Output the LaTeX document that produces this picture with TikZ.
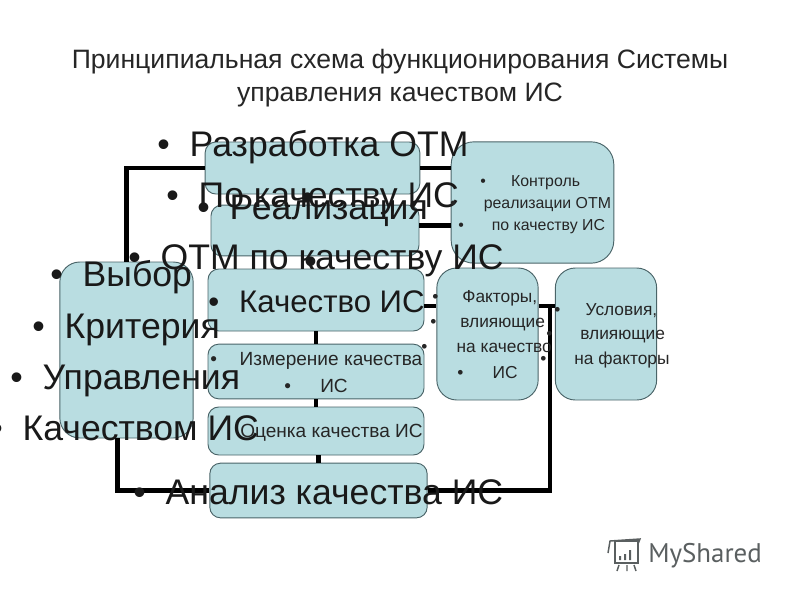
\documentclass[tikz,border=0pt]{standalone}
\usepackage{fontspec}
\setmainfont{Liberation Sans}
\newfontfamily\markfont{PT Sans}
\usetikzlibrary{calc}
\definecolor{boxfill}{HTML}{B9DDE1}
\definecolor{boxline}{HTML}{4A6468}
\definecolor{markgray}{HTML}{5A5F60}
\newcommand{\blt}[1][15pt]{\textbullet\hspace{#1}}
\tikzset{
  box/.style={rectangle, rounded corners=8pt, draw=boxline, fill=boxfill, line width=0.7pt, inner sep=0pt},
  wideround/.style={box, rounded corners=15pt},
  link/.style={line width=3.5pt, black},
  hugetext/.style={anchor=base west, inner sep=0pt, font=\fontsize{26.7}{27}\selectfont, text=black!90},
  bigtext/.style={anchor=base west, inner sep=0pt, font=\fontsize{23.4}{24}\selectfont, text=black!90},
  midtext/.style={anchor=base west, inner sep=0pt, font=\fontsize{14.3}{15}\selectfont, text=black!85},
  smalltext/.style={anchor=base west, inner sep=0pt, font=\fontsize{13}{13}\selectfont, text=black!85},
  tinytext/.style={anchor=base west, inner sep=0pt, font=\fontsize{11.9}{12}\selectfont, text=black!85},
  titletext/.style={inner sep=0pt, font=\fontsize{19.95}{20}\selectfont, text=black!85}
}

\begin{document}
\begin{tikzpicture}[x=0.75pt, y=-0.75pt]
        \useasboundingbox (0,0) rectangle (800,600);

        % Заголовок
        \node[titletext] (title1) at (400,62) {Принципиальная схема функционирования Системы};
        \node[titletext] (title2) at (400,95) {управления качеством ИС};

        % Блоки
        \node[box, minimum width=161pt, minimum height=39pt] (razrab) at (312.5,168) {};
        \node[box, minimum width=156pt, minimum height=38pt] (realiz) at (315,230.5) {};
        \node[box, minimum width=162pt, minimum height=46.5pt] (kachestvo) at (316,300) {};
        \node[box, minimum width=162pt, minimum height=41pt] (izmer) at (316,371.5) {};
        \node[box, minimum width=162pt, minimum height=36pt] (otsenka) at (316,431) {};
        \node[box, minimum width=163pt, minimum height=41pt] (analiz) at (318.5,490.5) {};
        \node[wideround, minimum width=100pt, minimum height=132pt] (vybor) at (126.5,350) {};
        \node[wideround, rounded corners=17pt, minimum width=122pt, minimum height=91pt] (kontrol) at (532.5,202.5) {};
        \node[wideround, minimum width=76pt, minimum height=99pt] (faktory) at (487.5,334) {};
        \node[wideround, minimum width=76pt, minimum height=99pt] (usloviya) at (606,334) {};

        % Связи
        \coordinate (tee) at (550,306);
        \draw[link] (razrab.west) -| (vybor.north);
        \draw[link] (razrab.east) -- (razrab.east -| kontrol.west);
        \draw[link] ([yshift=4pt]realiz.east) -- ([yshift=4pt]realiz.east -| kontrol.west);
        \draw[link] (kachestvo.east |- tee) -- (faktory.west |- tee);
        \draw[link] (faktory.east |- tee) -- (usloviya.west |- tee);
        \draw[link] (kachestvo.south) -- (izmer.north);
        \draw[link] (izmer.south) -- (otsenka.north);
        \draw[link] (otsenka.south -| analiz.north) -- (analiz.north);
        \draw[link] ([xshift=-7pt]vybor.south) |- (analiz.west);
        \draw[link] (analiz.east) -| (tee);

        % Крупные подписи
        \node[hugetext] (t1) at (157,156) {\blt Разработка ОТМ};
        \node[hugetext] (t2) at (166,207) {\blt По качеству ИС};
        \node[hugetext] (t3) at (197,219) {\blt Реализация};
        \node[hugetext] (t4) at (128,269) {\blt ОТМ по качеству ИС};
        \node[hugetext] (t5) at (133,504) {\blt Анализ качества ИС};
        \node[bigtext] (t6) at (208,312) {\blt Качество ИС};
        \node[hugetext] (t7) at (50,286) {\blt Выбор};
        \node[hugetext] (t8) at (32,338) {\blt Критерия};
        \node[hugetext] (t9) at (10,389) {\blt Управления};
        \node[hugetext] (t10) at (-10,440) {\blt Качеством ИС};

        % Мелкие подписи
        \node[midtext] (t11) at (210,365) {\blt[17pt]Измерение качества};
        \node[midtext] (t12) at (284,392) {\blt[22pt]ИС};
        \node[midtext] (t13) at (240,437) {Оценка качества ИС};
        \node[tinytext] (t14) at (480,186) {\blt[19pt]Контроль};
        \node[tinytext] (t15) at (450,208) {\blt[21pt]реализации ОТМ};
        \node[tinytext] (t16) at (458,230) {\blt[21pt]по качеству ИС};
        \node[smalltext] (t17) at (432,302) {\blt[18pt]Факторы,};
        \node[smalltext] (t18) at (430,327) {\blt[18pt]влияющие};
        \node[smalltext] (t19) at (421,352) {\blt[22pt]на качество};
        \node[smalltext] (t20) at (457,378) {\blt[22pt]ИС};
        \node[smalltext] (t21) at (554,315) {\blt[19pt]Условия,};
        \node[smalltext] (t22) at (546,339) {\blt[21pt]влияющие};
        \node[smalltext] (t23) at (540,364) {\blt[21pt]на факторы};

        % Отдельные точки
        \node[hugetext] (dot1) at (301,209) {\textbullet};
        \node[hugetext] (dot2) at (304,273) {\textbullet};

        % Логотип
        \draw[markgray, line width=1.1pt] (615,541) rectangle (638,563);
        \draw[markgray, line width=1.1pt] (608,553) -- (610,541) -- (640,539) -- (638,544);
        \draw[markgray, line width=1.1pt] (619,565) -- (617,571) (627,565) -- (627,571) (634,565) -- (636,571);
        \fill[markgray] (619,556) rectangle (621,560) (624,554) rectangle (626,560) (629,550) rectangle (631,560);
        \node[anchor=base west, inner sep=0pt, font=\markfont\fontsize{20.2}{20}\selectfont, text=markgray] (mark) at (648,562) {MyShared};
    \end{tikzpicture}
\end{document}
